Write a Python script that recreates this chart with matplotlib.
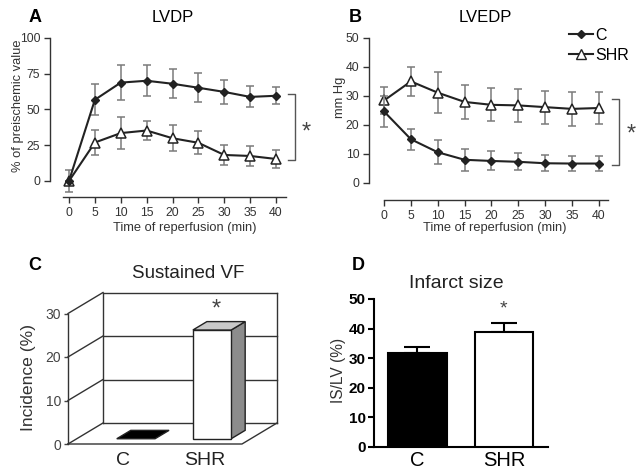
import matplotlib
matplotlib.use("Agg")
import matplotlib.pyplot as plt
from matplotlib.patches import Polygon
from matplotlib.lines import Line2D
import numpy as np

plt.rcParams['font.family'] = ['Liberation Sans', 'DejaVu Sans']

# ---------------- data ----------------
time_min = [0, 5, 10, 15, 20, 25, 30, 35, 40]

lvdp_c = [0, 56.8, 68.8, 70.1, 68.0, 65.2, 62.3, 58.8, 59.6]
lvdp_c_err = [0, 11, 12, 11, 10, 10, 8.5, 7.3, 6]
lvdp_shr = [0, 26.9, 33.5, 35.3, 29.9, 26.7, 18.2, 17.5, 15.4]
lvdp_shr_err = [8, 9, 11, 6.7, 9, 8, 7, 7, 6.5]

lvedp_c = [24.6, 15.0, 10.5, 7.9, 7.5, 7.2, 6.7, 6.6, 6.6]
lvedp_c_err = [5.4, 3.7, 4.2, 3.9, 3.3, 3.0, 2.8, 2.6, 2.6]
lvedp_shr = [28.4, 35.0, 31.1, 27.9, 26.9, 26.7, 26.1, 25.5, 25.8]
lvedp_shr_err = [4.5, 5, 7, 6, 5.7, 5.7, 5.7, 5.8, 5.7]

groups = ['C', 'SHR']
vf_incidence = [0, 25]
infarct_size = [31.9, 39.0]
infarct_err = [2.0, 3.0]

# ---------------- figure ----------------
W, H = 643, 474
fig = plt.figure(figsize=(W / 100, H / 100), dpi=100)


def px_axes(l, t, r, b):
    return fig.add_axes([l / W, 1 - b / H, (r - l) / W, (b - t) / H])


def ftext(x, y, s, **kw):
    return fig.text(x / W, 1 - y / H, s, **kw)


dark = '#222222'
ebar_col = '#7a7a7a'


def line_panel(ax, yc, yce, ys, yse, xlim, ylim, ybounds, xbounds, yticks):
    ax.errorbar(time_min, ys, yerr=yse, color=dark, lw=1.5, marker='^', ms=6.5,
                mfc='white', mec=dark, mew=1.1, ecolor=ebar_col, elinewidth=1.1,
                capsize=3, capthick=1.1, zorder=3, label='SHR')
    ax.errorbar(time_min, yc, yerr=yce, color=dark, lw=1.5, marker='D', ms=4.2,
                mfc=dark, mec=dark, ecolor=ebar_col, elinewidth=1.1,
                capsize=3, capthick=1.1, zorder=4, label='C')
    ax.set_xlim(*xlim)
    ax.set_ylim(*ylim)
    for s in ['top', 'right']:
        ax.spines[s].set_visible(False)
    ax.spines['left'].set_bounds(*ybounds)
    ax.spines['bottom'].set_bounds(*xbounds)
    for s in ['left', 'bottom']:
        ax.spines[s].set_linewidth(1.0)
        ax.spines[s].set_color('#333333')
    ax.set_xticks(time_min)
    ax.set_yticks(yticks)
    ax.tick_params(direction='out', length=4, width=1.0, labelsize=8.8,
                   colors='#333333', pad=3)


# Panel A
axA = px_axes(50, 38, 286, 197)
line_panel(axA, lvdp_c, lvdp_c_err, lvdp_shr, lvdp_shr_err,
           (-3.67, 41.93), (-11.2, 100), (0, 100), (-1.16, 41.93),
           [0, 25, 50, 75, 100])
axA.plot([42.3, 43.7, 43.7, 42.3], [60.8, 60.8, 14.7, 14.7], color='#555555',
         lw=1.0, clip_on=False)
axA.text(45.8, 34, '*', fontsize=17, color='#444444', ha='center', va='center',
         clip_on=False)

# Panel B
axB = px_axes(369, 38, 608, 200)
line_panel(axB, lvedp_c, lvedp_c_err, lvedp_shr, lvedp_shr_err,
           (-2.8, 41.7), (-6.0, 50), (0, 50), (0, 41.7),
           [0, 10, 20, 30, 40, 50])
axB.plot([42.4, 43.7, 43.7, 42.4], [29.0, 29.0, 6.1, 6.1], color='#555555',
         lw=1.0, clip_on=False)
axB.text(46.0, 16.5, '*', fontsize=17, color='#444444', ha='center',
         va='center', clip_on=False)
hC = Line2D([], [], color=dark, lw=1.5, marker='D', ms=4.2, mfc=dark, mec=dark)
hS = Line2D([], [], color=dark, lw=1.5, marker='^', ms=6.5, mfc='white', mec=dark)
fig.legend([hC, hS], ['C', 'SHR'], loc='upper left',
           bbox_to_anchor=(569 / W, 1 - 28 / H), frameon=False, fontsize=11.5,
           handlelength=1.5, handletextpad=0.12, labelspacing=0.3,
           borderpad=0, borderaxespad=0)

# texts for A/B
ftext(35, 17, 'A', fontsize=13, fontweight='bold', ha='center', va='center')
ftext(173, 17, 'LVDP', fontsize=12, ha='center', va='center')
ftext(355, 17, 'B', fontsize=13, fontweight='bold', ha='center', va='center')
ftext(485, 17, 'LVEDP', fontsize=12, ha='center', va='center')
ftext(18, 106, '% of preischemic value', fontsize=9.3, rotation=90,
      ha='center', va='center', color='#333333')
ftext(340, 97, 'mm Hg', fontsize=9.3, rotation=90, ha='center', va='center',
      color='#333333')
ftext(185, 228, 'Time of reperfusion (min)', fontsize=9.3, ha='center',
      va='center', color='#333333')
ftext(495, 228, 'Time of reperfusion (min)', fontsize=9.3, ha='center',
      va='center', color='#333333')

# Panel C: pseudo-3D bar chart
sc = 4.35  # px per unit
axC = px_axes(68, 280, 290, 444)
axC.set_xlim(0, 222 / sc)
axC.set_ylim(0, 164 / sc)
DX, DY = 35 / sc, 21 / sc      # full depth offset
floor_w = (242 - 68) / sc
ymax = 30
bar_w = 8.8
bar_x = [13.6, 31.1]
d0, d1 = 0.25, 0.65


def P(x, v, d):
    return (x + d * DX, v + d * DY)


wall_col = '#333333'
# back wall
axC.plot([DX, floor_w + DX], [DY, DY], color=wall_col, lw=1)
for g in [10, 20, 30]:
    axC.plot([DX, floor_w + DX], [g + DY, g + DY], color=wall_col, lw=1,
             clip_on=False)
axC.plot([DX, DX], [DY, ymax + DY], color=wall_col, lw=1, clip_on=False)
axC.plot([floor_w + DX, floor_w + DX], [DY, ymax + DY], color=wall_col, lw=1,
         clip_on=False)
# left wall diagonals
for g in [0, 10, 20, 30]:
    axC.plot([0, DX], [g, g + DY], color=wall_col, lw=1, clip_on=False)
# floor
axC.plot([0, floor_w, floor_w + DX], [0, 0, DY], color=wall_col, lw=1,
         clip_on=False)

face_front = ['black', 'white']
face_top = ['black', '#c9c9c9']
face_side = ['black', '#8c8c8c']
for i, (xc, v) in enumerate(zip(bar_x, vf_incidence)):
    xl, xr = xc - bar_w / 2, xc + bar_w / 2
    top = [P(xl, v, d0), P(xr, v, d0), P(xr, v, d1), P(xl, v, d1)]
    if v > 0:
        front = [P(xl, 0, d0), P(xr, 0, d0), P(xr, v, d0), P(xl, v, d0)]
        side = [P(xr, 0, d0), P(xr, 0, d1), P(xr, v, d1), P(xr, v, d0)]
        axC.add_patch(Polygon(side, closed=True, fc=face_side[i], ec=dark,
                              lw=1, zorder=5))
        axC.add_patch(Polygon(front, closed=True, fc=face_front[i], ec=dark,
                              lw=1, zorder=5))
    axC.add_patch(Polygon(top, closed=True, fc=face_top[i], ec=dark, lw=1,
                          zorder=5))
axC.text(34.1, 31.0, '*', fontsize=17, color='#444444', ha='center',
         va='center', clip_on=False)
for s in ['top', 'right', 'bottom']:
    axC.spines[s].set_visible(False)
axC.spines['left'].set_bounds(0, 30)
axC.spines['left'].set_color(wall_col)
axC.spines['left'].set_linewidth(1)
axC.set_yticks([0, 10, 20, 30])
axC.tick_params(axis='y', direction='out', length=3, width=1, labelsize=10,
                colors='#444444', pad=2)
axC.set_xticks([12.6, 31.5])
axC.set_xticklabels(groups, fontsize=14, color=dark)
axC.tick_params(axis='x', length=0, pad=6)
ftext(35, 265, 'C', fontsize=13, fontweight='bold', ha='center', va='center')
ftext(188, 273, 'Sustained VF', fontsize=13.5, ha='center', va='center',
      color=dark)
ftext(28, 377, 'Incidence (%)', fontsize=12.6, rotation=90, ha='center',
      va='center', color='#333333')

# Panel D
axD = px_axes(374, 299, 548, 447)
xpos = np.arange(len(groups))
axD.bar(xpos, infarct_size, width=0.68, color=['black', 'white'],
        edgecolor='black', linewidth=1.5, zorder=3)
axD.errorbar(xpos, infarct_size, yerr=[[0, 0], infarct_err], fmt='none',
             ecolor='black', elinewidth=1.5, capsize=9.4, capthick=1.5, zorder=2)
axD.set_xlim(-0.503, 1.51)
axD.set_ylim(0, 50)
for s in ['top', 'right']:
    axD.spines[s].set_visible(False)
for s in ['left', 'bottom']:
    axD.spines[s].set_linewidth(1.5)
axD.set_yticks([0, 10, 20, 30, 40, 50])
axD.tick_params(axis='y', direction='out', length=4, width=1.5, labelsize=11,
                pad=2)
for lab in axD.get_yticklabels():
    lab.set_fontweight('bold')
axD.set_xticks(xpos)
axD.set_xticklabels(groups, fontsize=14.5)
axD.tick_params(axis='x', length=0, pad=3)
axD.text(1, 46.5, '*', fontsize=14, color='#444444', ha='center', va='center')
ftext(358, 265, 'D', fontsize=13, fontweight='bold', ha='center', va='center')
ftext(456, 283, 'Infarct size', fontsize=14, ha='center', va='center',
      color=dark)
ftext(338, 370, 'IS/LV (%)', fontsize=11.2, rotation=90, ha='center',
      va='center', color='#333333')

fig.savefig('out.png', dpi=100)
